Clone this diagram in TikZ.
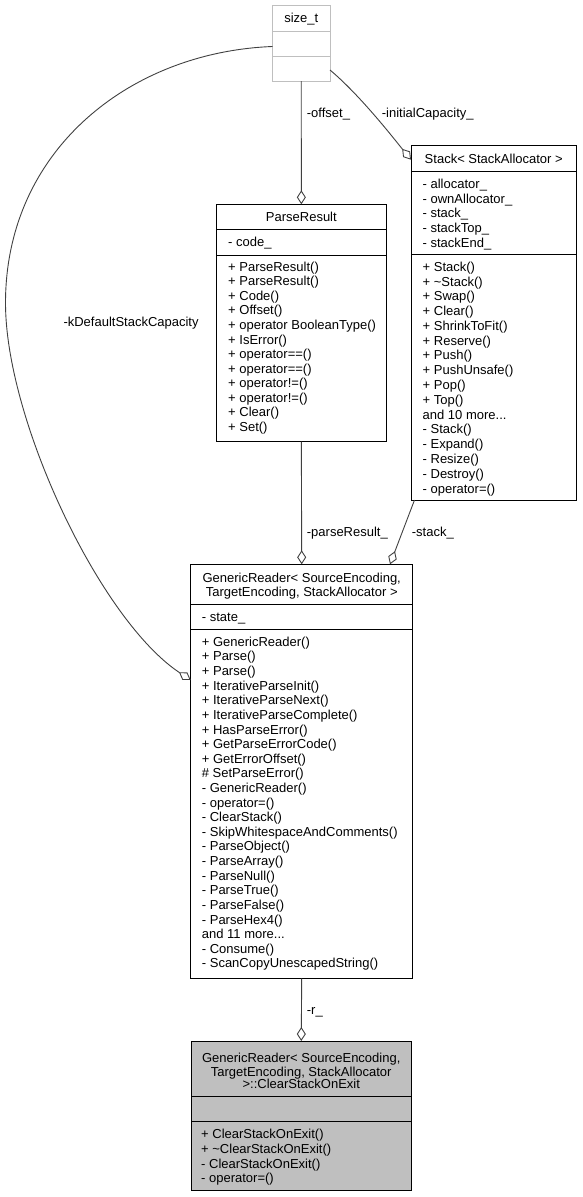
\documentclass[tikz,border=0pt]{standalone}
\usepackage{fontspec}
\setmainfont{Liberation Sans}
\usetikzlibrary{arrows.meta,calc}
\definecolor{edgec}{HTML}{404040}
\definecolor{greyc}{HTML}{BFBFBF}
\newcommand\moredots{...}
\begin{document}
\begin{tikzpicture}[x=1pt,y=-1pt,
  cls/.style={draw=black,line width=1pt,inner sep=0pt,outer sep=0pt,anchor=north west},
  sep/.style={draw=black,line width=1pt},
  txt/.style={inner sep=0pt,font=\fontsize{13}{14.6}\selectfont},
  mem/.style={txt,anchor=base west},
  hdr/.style={txt,anchor=base},
  edge/.style={draw=edgec,line width=0.9pt,-{Diamond[fill=white,length=14pt,width=9pt]}},
  elab/.style={txt,anchor=base west}]
\useasboundingbox (0,0) rectangle (582,1197);

% ---- size_t ----
\node[cls,draw=greyc,minimum width=57.5pt,minimum height=75.5pt] (sz) at (272.5,5.5) {};
\draw[sep,draw=greyc] (272.5,31.5) -- (330,31.5);
\draw[sep,draw=greyc] (272.5,56.5) -- (330,56.5);
\node[hdr] (szh) at (301.25,22.9) {size\_t};

% ---- Stack ----
\node[cls,minimum width=165.5pt,minimum height=354.3pt] (st) at (411,145.7) {};
\draw[sep] (411,171.7) -- (576.5,171.7);
\draw[sep] (411,254.3) -- (576.5,254.3);
\node[hdr] (sth) at (493.75,163.3) {Stack< StackAllocator >};
\foreach \t [count=\i] in {- allocator\_,- ownAllocator\_,- stack\_,- stackTop\_,- stackEnd\_}
  \node[mem] (sta\i) at (422.5,{188.6+(\i-1)*14.6}) {\t};
\foreach \t [count=\i] in {+ Stack(),+ \textasciitilde Stack(),+ Swap(),+ Clear(),+ ShrinkToFit(),+ Reserve(),+ Push(),+ PushUnsafe(),+ Pop(),+ Top(),and 10 more\moredots,- Stack(),- Expand(),- Resize(),- Destroy(),- operator=()}
  \node[mem] (stm\i) at (422.5,{271.3+(\i-1)*14.78}) {\t};

% ---- ParseResult ----
\node[cls,minimum width=169.3pt,minimum height=237.4pt] (pr) at (216.7,204.3) {};
\draw[sep] (216.7,229.3) -- (386,229.3);
\draw[sep] (216.7,255) -- (386,255);
\node[hdr] (prh) at (301.35,221.4) {ParseResult};
\node[mem] (pra1) at (228,246.8) {- code\_};
\foreach \t [count=\i] in {+ ParseResult(),+ ParseResult(),+ Code(),+ Offset(),+ operator BooleanType(),+ IsError(),+ operator==(),+ operator==(),+ operator!=(),+ operator!=(),+ Clear(),+ Set()}
  \node[mem] (prm\i) at (228,{271.3+(\i-1)*14.55}) {\t};

% ---- GenericReader ----
\node[cls,minimum width=222pt,minimum height=414pt] (gr) at (190.7,564.3) {};
\draw[sep] (190.7,604.3) -- (412.7,604.3);
\draw[sep] (190.7,629.3) -- (412.7,629.3);
\node[hdr] (grh1) at (301.7,582.3) {GenericReader< SourceEncoding,};
\node[hdr] (grh2) at (301.7,596.3) {TargetEncoding, StackAllocator >};
\node[mem] (gra1) at (201.7,621.9) {- state\_};
\foreach \t [count=\i] in {+ GenericReader(),+ Parse(),+ Parse(),+ IterativeParseInit(),+ IterativeParseNext(),+ IterativeParseComplete(),+ HasParseError(),+ GetParseErrorCode(),+ GetErrorOffset(),\# SetParseError(),- GenericReader(),- operator=(),- ClearStack(),- SkipWhitespaceAndComments(),- ParseObject(),- ParseArray(),- ParseNull(),- ParseTrue(),- ParseFalse(),- ParseHex4(),and 11 more\moredots,- Consume(),- ScanCopyUnescapedString()}
  \node[mem] (grm\i) at (201.7,{646.3+(\i-1)*14.62}) {\t};

% ---- ClearStackOnExit ----
\node[cls,fill=greyc,minimum width=219.5pt,minimum height=149.7pt] (bt) at (191.5,1041) {};
\draw[sep] (191.5,1096.7) -- (411,1096.7);
\draw[sep] (191.5,1121.7) -- (411,1121.7);
\node[hdr] (bth1) at (301.25,1062.9) {GenericReader< SourceEncoding,};
\node[hdr] (bth2) at (301.25,1076.1) {TargetEncoding, StackAllocator};
\node[hdr] (bth3) at (301.25,1088.6) {>::ClearStackOnExit};
\foreach \t [count=\i] in {+ ClearStackOnExit(),+ \textasciitilde ClearStackOnExit(),- ClearStackOnExit(),- operator=()}
  \node[mem] (btm\i) at (201,{1138.9+(\i-1)*14.66}) {\t};

% ---- connectors ----
\coordinate (szE) at ($(sz.south east)+(0,-11)$);
\coordinate (stW) at ($(st.north west)+(0,14)$);
\coordinate (szW) at ($(sz.north west)+(0,41)$);
\coordinate (grW) at ($(gr.north west)+(0,115.7)$);
\coordinate (stS) at ($(st.south west)+(3.5,0)$);
\coordinate (grN) at ($(gr.north east)+(-22.7,0)$);

\draw[edge] (sz.south) -- (pr.north);
\draw[edge] (szE) .. controls (360,95) and (395,140) .. (stW);
\draw[edge] (szW) .. controls (130,52) and (5.5,150) .. (5.5,303) .. controls (5.5,420) and (100,620) .. (grW);
\draw[edge] (pr.south) -- (gr.north);
\draw[edge] (stS) -- (grN);
\draw[edge] (gr.south) -- (bt.north);

\node[elab] (l1) at (306.7,117.9) {-offset\_};
\node[elab] (l2) at (381.7,117.9) {-initialCapacity\_};
\node[elab] (l3) at (63.3,326.8) {-kDefaultStackCapacity};
\node[elab] (l4) at (306.7,536.3) {-parseResult\_};
\node[elab] (l5) at (411.7,536.3) {-stack\_};
\node[elab] (l6) at (306.7,1014.6) {-r\_};
\end{tikzpicture}
\end{document}
